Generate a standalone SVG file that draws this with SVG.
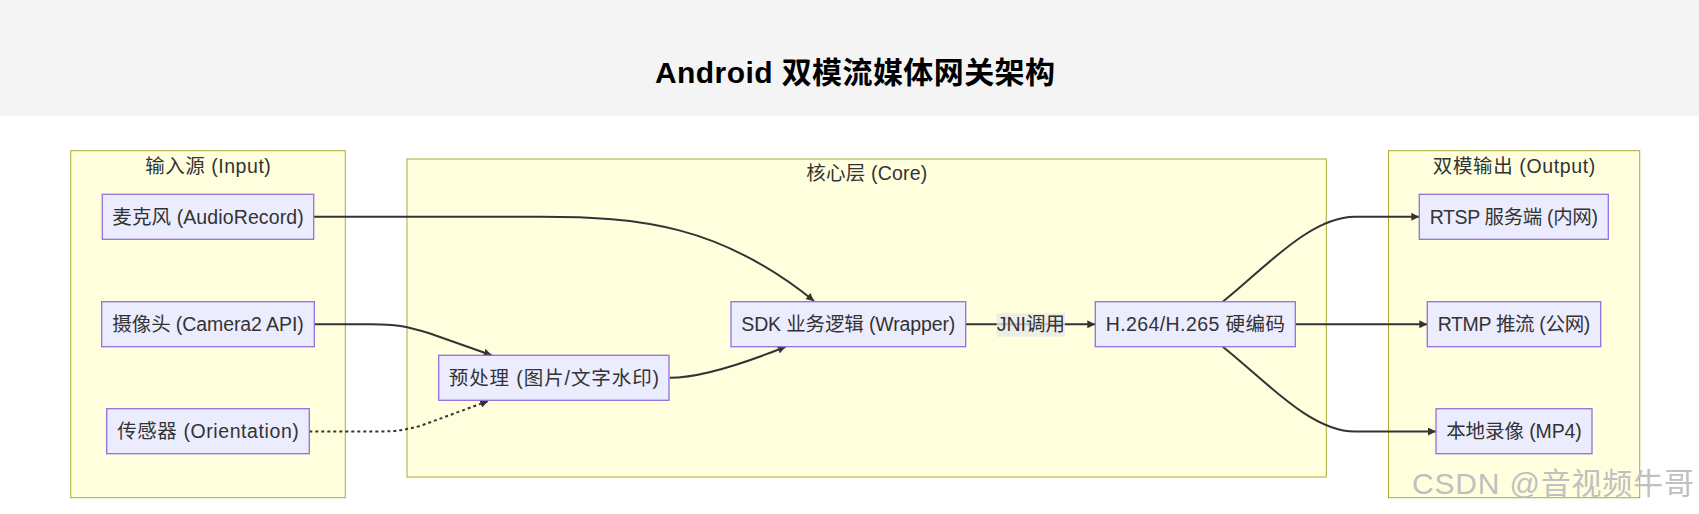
<svg xmlns="http://www.w3.org/2000/svg" width="1699" height="514" viewBox="0 0 1699 514">
<style>
.cluster{fill:#ffffde;stroke:#aaaa33;stroke-width:1}
.node rect{fill:#ececff;stroke:#9370db;stroke-width:1.3}
.lbl{font-family:"Liberation Sans","Noto Sans CJK SC",sans-serif;font-size:19.5px;fill:#333;text-anchor:middle}
.edge{fill:none;stroke:#333;stroke-width:2}
.dotted{stroke-dasharray:3 3}
.title{font-family:"Liberation Sans","Noto Sans CJK SC",sans-serif;font-size:30px;font-weight:bold;fill:#000;text-anchor:middle}
.wm{font-family:"Liberation Sans","Noto Sans CJK SC",sans-serif;font-size:30px;fill:#c0c0c0}
</style>
<defs>
<marker id="arrow" viewBox="0 0 10 10" refX="10" refY="5" markerWidth="8" markerHeight="8" markerUnits="userSpaceOnUse" orient="auto">
<path d="M0,0 L10,5 L0,10 z" fill="#333"/>
</marker>
</defs>
<rect x="0" y="0" width="1699" height="514" fill="#ffffff"/>
<rect x="0" y="0" width="1699" height="116" fill="#f4f4f4"/>
<text class="title" x="855" y="83" textLength="400" lengthAdjust="spacing">Android 双模流媒体网关架构</text>

<g id="cluster-input">
<rect class="cluster" x="70.7" y="150.7" width="274.6" height="347"/>
<text class="lbl" x="208" y="172.5" textLength="125.7" lengthAdjust="spacing">输入源 (Input)</text>
</g>
<g id="cluster-core">
<rect class="cluster" x="407" y="159" width="919.3" height="318"/>
<text class="lbl" x="866.8" y="180" textLength="121" lengthAdjust="spacing">核心层 (Core)</text>
</g>
<g id="cluster-output">
<rect class="cluster" x="1388.5" y="150.7" width="251.2" height="347"/>
<text class="lbl" x="1514" y="172.5" textLength="162.3" lengthAdjust="spacing">双模输出 (Output)</text>
</g>

<g id="edges">
<path class="edge" d="M313.7,216.8 L540,216.8 C640,216.8 720,225 814,301" marker-end="url(#arrow)"/>
<path class="edge" d="M314.3,324.3 L372,324.3 C395,324.3 405,326 430,333.5 L491.7,355.3" marker-end="url(#arrow)"/>
<path class="edge dotted" d="M309.3,431.5 L380,431.5 C395,431.5 405,430 420,426 L488.3,401" marker-end="url(#arrow)"/>
<path class="edge" d="M669.7,377.8 C700,377.8 740,365 785.7,346.7" marker-end="url(#arrow)"/>
<path class="edge" d="M965.7,324.3 L1095.3,324.3" marker-end="url(#arrow)"/>
<rect x="996.7" y="313.3" width="68.3" height="23.4" fill="rgba(232,232,232,0.8)"/>
<text class="lbl" x="1030.8" y="331" textLength="68.3" lengthAdjust="spacing">JNI调用</text>
<path class="edge" d="M1222.7,301.7 C1265,268 1310,216.8 1355,216.8 L1419.3,216.8" marker-end="url(#arrow)"/>
<path class="edge" d="M1295.3,324.3 L1427.3,324.3" marker-end="url(#arrow)"/>
<path class="edge" d="M1222.7,346.7 C1265,380 1310,431.5 1355,431.5 L1436,431.5" marker-end="url(#arrow)"/>
</g>

<g id="node-mic" class="node">
<rect x="102.3" y="194.3" width="211.4" height="45"/>
<text class="lbl" x="208" y="223.5" textLength="191.4" lengthAdjust="spacing">麦克风 (AudioRecord)</text>
</g>
<g id="node-cam" class="node">
<rect x="101.7" y="301.7" width="212.6" height="45"/>
<text class="lbl" x="208" y="331" textLength="191.4" lengthAdjust="spacing">摄像头 (Camera2 API)</text>
</g>
<g id="node-sensor" class="node">
<rect x="106.7" y="408.7" width="202.6" height="45"/>
<text class="lbl" x="208" y="438" textLength="181.7" lengthAdjust="spacing">传感器 (Orientation)</text>
</g>
<g id="node-pre" class="node">
<rect x="438.7" y="355.3" width="230.3" height="45"/>
<text class="lbl" x="553.9" y="384.5" textLength="210.3" lengthAdjust="spacing">预处理 (图片/文字水印)</text>
</g>
<g id="node-sdk" class="node">
<rect x="731" y="301.7" width="234.7" height="45"/>
<text class="lbl" x="848.3" y="331" textLength="214" lengthAdjust="spacing">SDK 业务逻辑 (Wrapper)</text>
</g>
<g id="node-enc" class="node">
<rect x="1095.3" y="301.7" width="200" height="45"/>
<text class="lbl" x="1195.3" y="331" textLength="179.3" lengthAdjust="spacing">H.264/H.265 硬编码</text>
</g>
<g id="node-rtsp" class="node">
<rect x="1419.3" y="194.3" width="189" height="45"/>
<text class="lbl" x="1513.8" y="223.5" textLength="168.3" lengthAdjust="spacing">RTSP 服务端 (内网)</text>
</g>
<g id="node-rtmp" class="node">
<rect x="1427.3" y="301.7" width="173.4" height="45"/>
<text class="lbl" x="1514" y="331" textLength="152.7" lengthAdjust="spacing">RTMP 推流 (公网)</text>
</g>
<g id="node-rec" class="node">
<rect x="1436" y="408.7" width="156" height="45"/>
<text class="lbl" x="1514" y="438" textLength="135.7" lengthAdjust="spacing">本地录像 (MP4)</text>
</g>

<text class="wm" x="1412" y="494" textLength="282" lengthAdjust="spacing">CSDN @音视频牛哥</text>
</svg>
